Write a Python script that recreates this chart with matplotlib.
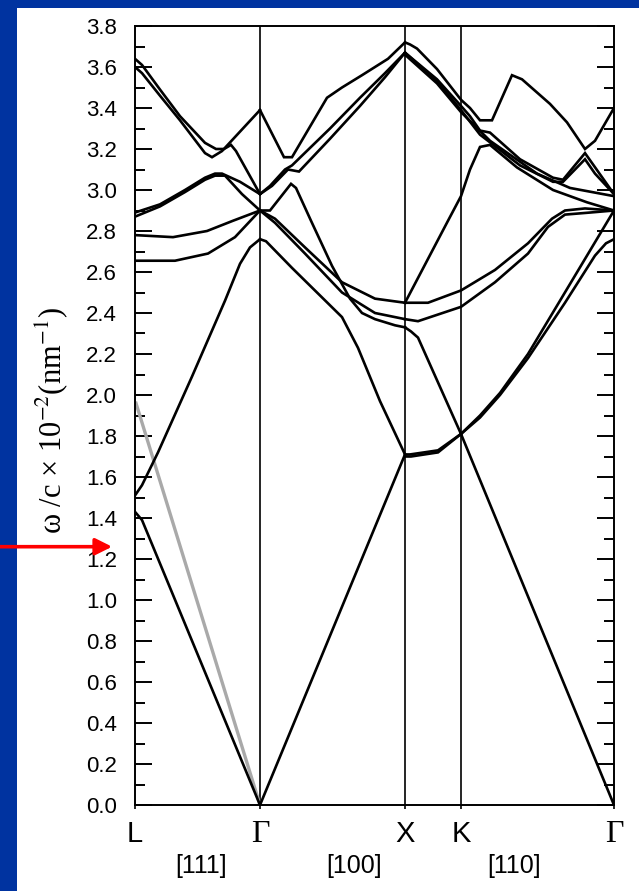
import matplotlib
matplotlib.use("Agg")
import matplotlib.pyplot as plt
import matplotlib.transforms as mtransforms
from matplotlib.patches import Rectangle
from matplotlib.ticker import MultipleLocator, FormatStrFormatter

plt.rcParams['font.family'] = ['Liberation Sans', 'DejaVu Sans']
plt.rcParams['mathtext.fontset'] = 'stix'

# symmetry points along the path (path units) and labels
sym_k = [0, 125, 270, 326, 479]
sym_labels = ['L', 'Γ', 'X', 'K', 'Γ']
dir_k = [66, 219, 379]
dir_labels = ['[111]', '[100]', '[110]']
arrow_w = 1.26

# ---- L -> Gamma
lg_a = [(0, 3.60), (7, 3.57), (25, 3.46), (45, 3.34), (70, 3.18), (77, 3.16), (87, 3.19), (125, 3.39)]
lg_b = [(0, 3.64), (7, 3.61), (25, 3.49), (45, 3.36), (70, 3.23), (81, 3.20), (89, 3.20), (96, 3.22),
        (101, 3.19), (125, 2.98)]
lg_c = [(0, 2.89), (25, 2.93), (50, 3.00), (70, 3.06), (80, 3.08), (87, 3.08), (105, 3.04), (125, 2.98)]
lg_d = [(0, 2.87), (25, 2.92), (50, 2.99), (70, 3.05), (80, 3.07), (90, 3.07), (107, 2.98), (125, 2.90)]
lg_e = [(0, 2.78), (38, 2.77), (72, 2.80), (98, 2.85), (125, 2.90)]
lg_f = [(0, 2.655), (40, 2.655), (73, 2.69), (100, 2.77), (125, 2.90)]
lg_la = [(0, 1.51), (7, 1.56), (23, 1.72), (57, 2.09), (90, 2.46), (105, 2.64), (115, 2.72), (125, 2.76)]
lg_ta = [(0, 1.43), (7, 1.39), (125, 0.0)]
lg_grey = [(1, 1.96), (125, 0.0)]

# ---- Gamma -> X
gx_top = [(125, 3.39), (149, 3.16), (157, 3.16), (192, 3.45), (207, 3.50), (227, 3.56), (253, 3.64),
          (270, 3.72)]
gx_g1 = [(125, 2.98), (135, 3.02), (150, 3.10), (157, 3.12), (195, 3.30), (225, 3.45), (250, 3.57), (270, 3.67)]
gx_g2 = [(125, 2.98), (137, 3.02), (153, 3.10), (164, 3.09), (195, 3.25), (225, 3.41), (250, 3.55), (270, 3.67)]
gx_h = [(125, 2.90), (135, 2.90), (156, 3.03), (161, 3.01), (176, 2.85), (197, 2.63), (215, 2.47),
        (227, 2.40), (240, 2.37), (260, 2.34), (270, 2.33)]
gx_l2 = [(125, 2.90), (140, 2.86), (170, 2.72), (207, 2.55), (240, 2.47), (270, 2.45)]
gx_l3 = [(125, 2.90), (140, 2.84), (170, 2.69), (207, 2.50), (240, 2.40), (270, 2.37)]
gx_la = [(125, 2.76), (131, 2.75), (157, 2.62), (207, 2.38), (223, 2.23), (245, 1.97), (270, 1.71)]
gx_ta = [(125, 0.0), (270, 1.71)]

# ---- X -> K -> Gamma
xg_top = [(270, 3.72), (275, 3.71), (282, 3.69), (302, 3.59), (326, 3.44), (335, 3.40), (345, 3.34),
          (357, 3.34), (377, 3.56), (387, 3.54), (415, 3.42), (432, 3.33), (450, 3.20), (460, 3.24),
          (479, 3.40)]
xg_p1 = [(270, 3.67), (302, 3.54), (326, 3.41), (335, 3.36), (345, 3.29), (355, 3.28), (385, 3.15),
         (418, 3.06), (428, 3.05), (450, 3.18), (479, 2.98)]
xg_p2 = [(270, 3.67), (302, 3.53), (326, 3.39), (345, 3.27), (385, 3.12), (418, 3.04), (428, 3.04),
         (450, 3.15), (460, 3.08), (479, 2.98)]
xg_p3 = [(270, 3.66), (302, 3.52), (326, 3.38), (355, 3.24), (402, 3.08), (435, 3.01), (479, 2.97)]
xg_s = [(270, 2.45), (313, 2.85), (326, 2.97), (335, 3.10), (345, 3.21), (355, 3.22), (382, 3.11),
        (418, 3.00), (452, 2.94), (479, 2.90)]
xg_q1 = [(270, 2.45), (293, 2.45), (326, 2.51), (360, 2.61), (393, 2.74), (417, 2.86), (430, 2.90),
         (450, 2.91), (479, 2.90)]
xg_q2 = [(270, 2.37), (283, 2.36), (326, 2.43), (360, 2.55), (393, 2.69), (413, 2.82), (430, 2.88),
         (455, 2.89), (479, 2.90)]
xg_h = [(270, 2.33), (276, 2.31), (283, 2.28), (326, 1.81), (479, 0.0)]
xk_t1 = [(270, 1.71), (275, 1.71), (303, 1.73), (326, 1.81)]
xk_t2 = [(270, 1.70), (276, 1.70), (303, 1.72), (326, 1.81)]
kg_1 = [(326, 1.81), (345, 1.90), (365, 2.01), (393, 2.20), (425, 2.46), (452, 2.68), (479, 2.90)]
kg_2 = [(326, 1.81), (345, 1.89), (365, 2.00), (393, 2.18), (430, 2.45), (460, 2.68), (471, 2.74),
        (479, 2.76)]

bands = [lg_a, lg_b, lg_c, lg_d, lg_e, lg_f, lg_la, lg_ta,
         gx_top, gx_g1, gx_g2, gx_h, gx_l2, gx_l3, gx_la, gx_ta,
         xg_top, xg_p1, xg_p2, xg_p3, xg_s, xg_q1, xg_q2, xg_h, xk_t1, xk_t2, kg_1, kg_2]

fig = plt.figure(figsize=(6.39, 8.91), dpi=100)
fig.patch.set_facecolor('#0033a0')
fig.add_artist(Rectangle((17 / 639, 0), 1, 1 - 8 / 891, transform=fig.transFigure,
                         facecolor='white', edgecolor='none', zorder=0))

ax = fig.add_axes([135 / 639, 1 - 805 / 891, 479 / 639, 779 / 891])
ax.set_facecolor('white')

k, w = zip(*lg_grey)
ax.plot(k, w, '-', color='#a9a9a9', lw=2.4, zorder=2)
for band in bands:
    k, w = zip(*band)
    ax.plot(k, w, 'k-', lw=1.9, solid_joinstyle='miter', zorder=3)

for kk in sym_k[1:4]:
    ax.axvline(kk, color='k', lw=1.2, zorder=1)

ax.set_xlim(sym_k[0], sym_k[-1])
ax.set_ylim(0, 3.8)

for sp in ax.spines.values():
    sp.set_linewidth(1.4)

ax.yaxis.set_major_locator(MultipleLocator(0.2))
ax.yaxis.set_minor_locator(MultipleLocator(0.1))
ax.yaxis.set_major_formatter(FormatStrFormatter('%.1f'))
ax.tick_params(axis='y', which='major', direction='in', length=12, width=1.4,
               left=True, right=True, labelsize=16, pad=13)
ax.tick_params(axis='y', which='minor', direction='in', length=7, width=1.4, left=True, right=True)

ax.set_xticks(sym_k)
ax.set_xticklabels(sym_labels)
ax.tick_params(axis='x', direction='out', length=3, width=1.2, labelsize=21, pad=8)
for lab, txt in zip(ax.get_xticklabels(), sym_labels):
    if txt == 'Γ':
        lab.set_family('Liberation Serif')
        lab.set_fontsize(23)

trans = mtransforms.blended_transform_factory(ax.transData, ax.transAxes)
for kk, txt in zip(dir_k, dir_labels):
    ax.text(kk, -0.078, txt, transform=trans, ha='center', va='center', fontsize=18)

ax.text(-0.173, 0.494, 'ω /c × 10$^{-2}$(nm$^{-1}$)', transform=ax.transAxes, rotation=90,
        ha='center', va='center', family='Liberation Serif', fontsize=22)

ax.annotate('', xy=(-0.042, arrow_w), xycoords=('axes fraction', 'data'),
            xytext=(-0.30, arrow_w), textcoords=('axes fraction', 'data'),
            arrowprops=dict(arrowstyle='-|>', color='#ff0000', lw=2.6, mutation_scale=25),
            annotation_clip=False)

fig.savefig('out.png', dpi=100, facecolor=fig.get_facecolor())
